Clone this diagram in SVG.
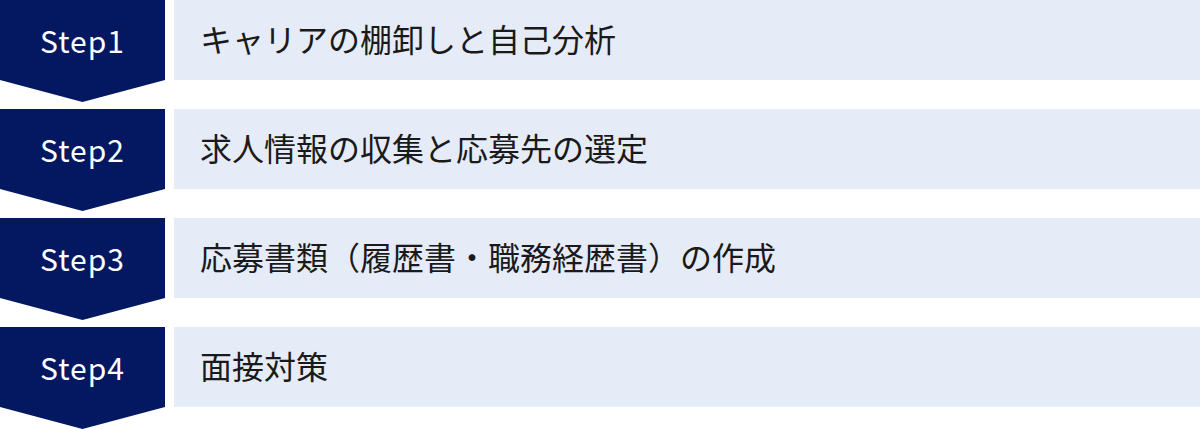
<svg xmlns="http://www.w3.org/2000/svg" width="1200" height="429" viewBox="0 0 1200 429">
<style>
.chev{fill:#041862}
.box{fill:#e6ebf8}
.step{font-family:"Noto Sans CJK JP","Noto Sans",sans-serif;font-size:30px;fill:#ffffff;text-anchor:middle;letter-spacing:1px}
.lbl{font-family:"Noto Sans CJK JP","Noto Sans",sans-serif;font-size:32px;fill:#1a1a1a}
</style>
<rect width="1200" height="429" fill="#ffffff"/>
<g id="step1">
<polygon class="chev" points="0,0 165,0 165,80 82.5,102 0,80"/>
<rect class="box" x="174" y="0" width="1026" height="80"/>
<text class="step" x="82.5" y="53">Step1</text>
<text class="lbl" x="200" y="52">キャリアの棚卸しと自己分析</text>
</g>
<g id="step2">
<polygon class="chev" points="0,109 165,109 165,189 82.5,211 0,189"/>
<rect class="box" x="174" y="109" width="1026" height="80"/>
<text class="step" x="82.5" y="162">Step2</text>
<text class="lbl" x="200" y="161">求人情報の収集と応募先の選定</text>
</g>
<g id="step3">
<polygon class="chev" points="0,218 165,218 165,298 82.5,320 0,298"/>
<rect class="box" x="174" y="218" width="1026" height="80"/>
<text class="step" x="82.5" y="271">Step3</text>
<text class="lbl" x="200" y="270">応募書類（履歴書・職務経歴書）の作成</text>
</g>
<g id="step4">
<polygon class="chev" points="0,327 165,327 165,407 82.5,429 0,407"/>
<rect class="box" x="174" y="327" width="1026" height="80"/>
<text class="step" x="82.5" y="380">Step4</text>
<text class="lbl" x="200" y="379">面接対策</text>
</g>
<g id="connectors"></g>
</svg>
